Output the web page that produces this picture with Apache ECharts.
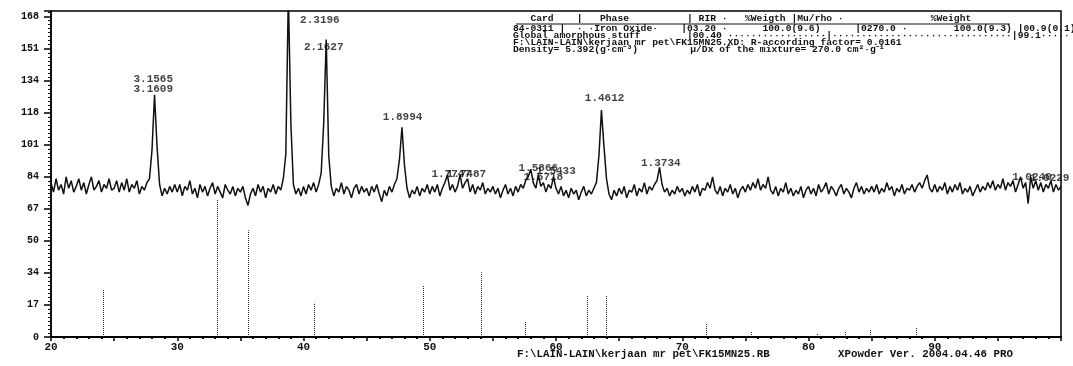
<!DOCTYPE html>
<html>
<head>
<meta charset="utf-8">
<script src="https://cdn.jsdelivr.net/npm/echarts@6/dist/echarts.min.js"></script>
<style>
  html, body { margin: 0; padding: 0; background: #fff; }
  #main { width: 1073px; height: 366px; }
</style>
</head>
<body>
<div id="main"></div>
<script>
// scan: 2-theta 20..100, step 0.2, counts
var scanStart = 20;
var scanStep = 0.2;
var scanCounts = [
  81,76,83,77,80,75,84,78,82,76,79,83,77,81,75,80,84,77,79,82,76,80,78,83,77,
  78,82,76,81,77,83,76,80,78,82,75,79,77,81,83,98,127,100,80,74,78,75,79,76,80,
  76,80,74,79,77,82,75,78,73,80,76,79,74,78,81,75,79,76,73,80,77,75,79,74,78,
  76,79,73,69,75,78,74,80,76,79,73,78,76,80,75,79,77,83,96,180,112,80,75,78,74,
  79,75,80,77,81,76,80,86,112,156,95,79,74,78,76,81,75,79,77,73,78,80,75,79,76,
  78,74,79,76,80,75,71,77,74,79,76,80,83,93,110,90,78,73,77,75,79,74,78,76,80,
  75,79,76,80,74,78,81,85,77,80,76,79,85,78,81,83,76,80,75,79,77,81,75,78,76,
  79,75,78,73,77,80,75,78,74,79,76,80,78,82,84,88,81,78,85,79,81,76,80,78,84,
  78,75,79,74,77,73,78,75,77,72,76,79,74,77,75,78,81,95,119,100,83,75,72,77,74,
  78,75,79,73,77,76,80,74,78,76,81,75,79,77,80,82,89,80,76,78,74,77,75,79,76,
  78,74,77,75,79,76,80,74,78,77,81,78,84,77,75,79,74,78,76,80,75,78,73,77,79,
  76,80,77,81,78,83,77,80,78,84,77,75,79,74,78,76,81,75,78,74,77,75,79,73,77,
  79,75,78,74,80,76,78,81,75,79,77,74,78,80,75,78,76,73,78,81,76,79,75,78,76,
  79,76,80,75,78,76,81,77,79,74,78,76,80,75,78,77,80,76,79,81,78,82,85,78,76,
  80,76,79,77,81,75,79,76,80,77,81,75,78,76,79,74,77,80,76,79,77,81,78,82,77,
  80,78,83,77,81,79,82,76,80,84,78,81,70,84,78,82,77,81,76,80,78,82,76,80,77,
  79
];

// reference pattern sticks (hematite card)
var refTheta = [24.14, 33.15, 35.61, 40.85, 49.48, 54.09, 57.59, 62.45, 64.01, 71.94, 75.43, 80.71, 82.94, 84.91, 88.54];
var refHeight = [25, 72, 56, 18, 27, 34, 8, 22, 22, 7, 3, 2, 3, 4, 5];

// d-spacing labels and where they sit
var peakText = ['3.1565', '3.1609', '2.3196', '2.1627', '1.8994', '1.7747', '1.7487', '1.5866', '1.5718', '1.5433', '1.4612', '1.3734', '1.0240', '1.0229'];
var peakTheta = [28.1, 28.1, 41.3, 41.6, 47.85, 51.7, 52.9, 58.6, 59.0, 60.0, 63.85, 68.3, 97.7, 99.1];
var peakCount = [135, 130, 166, 152, 115.5, 85.5, 85.5, 88.7, 84, 87, 125.5, 91.3, 84, 83.5];

// y tick labels are 168/10 steps, rounded
var yMax = 168;
var yStep = 16.8;

var tableHeader = '   Card    |   Phase          | RIR ·   %Weigth |Mu/rho ·               %Weight';
var tableLines = [
  '84-0311 |  · ·Iron Oxide·    |03.20 ·      100.0(9.6)      |0270.0 ·        100.0(9.3) |00.9(0.1)',
  'Global amorphous stuff        |00.40 ·················|·······························|99.1·····',
  'F:\\LAIN-LAIN\\kerjaan mr pet\\FK15MN25.XD: R-according factor= 0.0161',
  'Density= 5.392(g·cm⁻³)         μ/Dx of the mixture= 270.0 cm²·g⁻¹'
];
var footLeft = 'F:\\LAIN-LAIN\\kerjaan mr pet\\FK15MN25.RB';
var footRight = 'XPowder Ver. 2004.04.46 PRO';

var mono = 'Liberation Mono';

var scanData = scanCounts.map(function (c, i) {
    return [+(scanStart + i * scanStep).toFixed(2), c];
});

var stickLines = refTheta.map(function (t, i) {
    return [{ coord: [t, 0] }, { coord: [t, refHeight[i]] }];
});

var labelData = peakText.map(function (s, i) {
    return { name: s, value: [peakTheta[i], peakCount[i]] };
});

// header block (top right) and footer
var graphics = [];
graphics.push({
    type: 'text', x: 513, y: 19, scaleX: 1.074,
    style: { text: tableHeader, font: 'bold 9px ' + mono, fill: '#111', verticalAlign: 'middle' }
});
graphics.push({
    type: 'line', shape: { x1: 516, y1: 24, x2: 1010, y2: 24 },
    style: { stroke: '#111', lineWidth: 1 }
});
tableLines.forEach(function (t, i) {
    graphics.push({
        type: 'text', x: 513, y: 28.5 + i * 7, scaleX: 1.074,
        style: { text: t, font: 'bold 9px ' + mono, fill: '#111', verticalAlign: 'middle' }
    });
});
graphics.push({
    type: 'text', x: 517, y: 354, scaleX: 1.08,
    style: { text: footLeft, font: 'bold 10px ' + mono, fill: '#111', verticalAlign: 'middle' }
});
graphics.push({
    type: 'text', x: 838, y: 354, scaleX: 1.08,
    style: { text: footRight, font: 'bold 10px ' + mono, fill: '#111', verticalAlign: 'middle' }
});

var myChart = echarts.init(document.getElementById('main'));
myChart.setOption({
    backgroundColor: '#fff',
    animation: false,
    grid: {
        left: 51, right: 12, top: 11, bottom: 29,
        show: true, borderColor: '#000', borderWidth: 1.5
    },
    xAxis: {
        type: 'value',
        min: 20, max: 100, interval: 5,
        axisLine: { lineStyle: { color: '#000', width: 2 } },
        axisTick: { length: 4, lineStyle: { color: '#000', width: 1.5 } },
        minorTick: { show: true, splitNumber: 5, length: 2, lineStyle: { color: '#000', width: 2 } },
        splitLine: { show: false },
        axisLabel: {
            margin: 5, color: '#111', fontFamily: mono, fontWeight: 'bold', fontSize: 11,
            formatter: function (v) { return (v % 10 === 0 && v < 100) ? String(v) : ''; }
        }
    },
    yAxis: {
        type: 'value',
        min: 0, max: 171, interval: yStep,
        axisLine: { show: true, lineStyle: { color: '#000', width: 1.5 } },
        axisTick: { show: true, length: 7, lineStyle: { color: '#000', width: 1.5 } },
        minorTick: { show: true, splitNumber: 8, length: 3, lineStyle: { color: '#000', width: 1 } },
        splitLine: { show: false },
        axisLabel: {
            margin: 12, color: '#111', fontFamily: mono, fontWeight: 'bold', fontSize: 10,
            formatter: function (v) { return v > yMax + 0.5 ? '' : String(Math.round(v)); }
        }
    },
    series: [
        {
            type: 'line',
            data: scanData,
            showSymbol: false,
            clip: true,
            lineStyle: { color: '#111', width: 1.5 },
            markLine: {
                silent: true,
                symbol: 'none',
                label: { show: false },
                lineStyle: { color: '#222', width: 1, type: 'dotted' },
                data: stickLines
            }
        },
        {
            type: 'scatter',
            data: labelData,
            symbolSize: 0,
            clip: false,
            label: {
                show: true, position: 'inside',
                formatter: '{b}',
                color: '#111', fontFamily: mono, fontWeight: 'bold', fontSize: 11
            }
        }
    ],
    graphic: graphics
});
</script>
</body>
</html>
